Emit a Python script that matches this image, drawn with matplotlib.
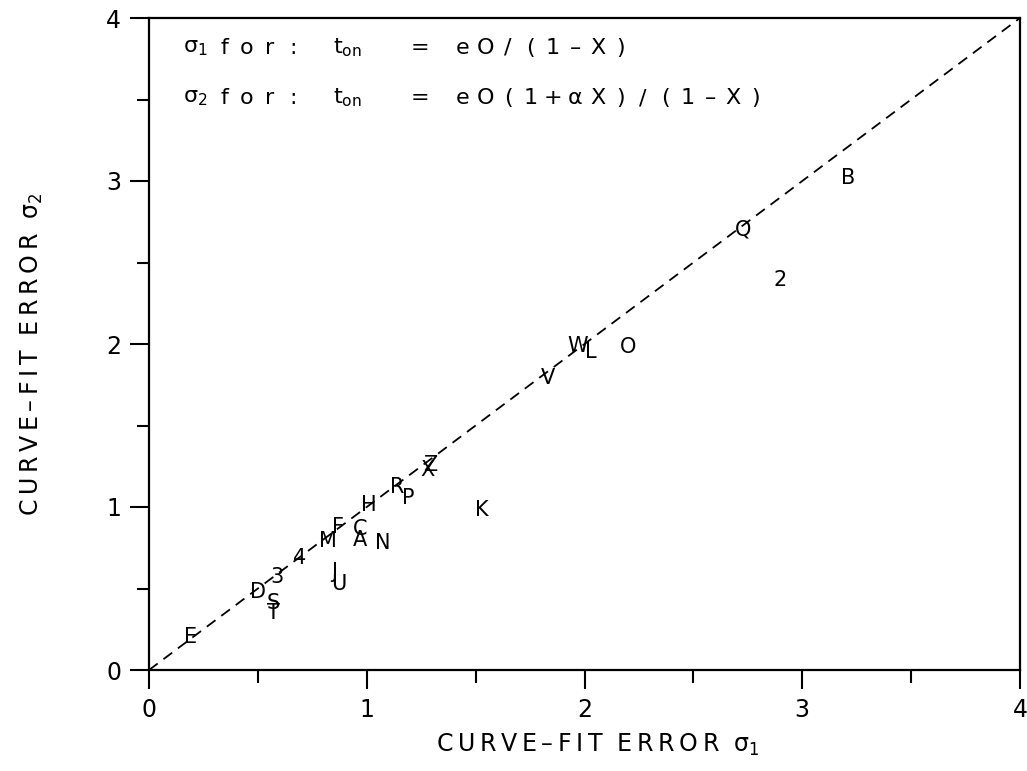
import matplotlib.pyplot as plt
import numpy as np

# sample labels and their curve-fit errors
labels = ['E', 'D', 'S', 'T', '3', '4', 'M', 'F', 'J', 'U', 'C', 'A', 'N',
          'H', 'R', 'P', 'Z', 'X', 'K', 'V', 'W', 'L', 'O', 'Q', '2', 'B']
sigma1 = [0.19, 0.50, 0.57, 0.57, 0.59, 0.69, 0.82, 0.87, 0.85, 0.87, 0.97, 0.97, 1.075,
          1.01, 1.14, 1.19, 1.29, 1.28, 1.53, 1.83, 1.97, 2.03, 2.20, 2.73, 2.90, 3.21]
sigma2 = [0.20, 0.48, 0.41, 0.35, 0.57, 0.69, 0.79, 0.88, 0.60, 0.53, 0.865, 0.80, 0.78,
          1.01, 1.12, 1.055, 1.26, 1.23, 0.98, 1.79, 1.99, 1.95, 1.98, 2.70, 2.39, 3.02]

xticks = [0, 1, 2, 3, 4]
yticks = [0, 1, 2, 3, 4]

W, H = 1027, 771
fig = plt.figure(figsize=(W / 100, H / 100), dpi=100)
ax = fig.add_axes([149 / W, 101 / H, 871 / W, 652 / H])

# one-to-one reference line
ax.plot([0, 4], [0, 4], color='black', lw=1.3, linestyle=(0, (6, 4)))

for lab, x, y in zip(labels, sigma1, sigma2):
    ax.text(x, y, lab, ha='center', va='center', fontsize=15, color='black')

ax.set_xlim(0, 4)
ax.set_ylim(0, 4)
ax.set_xticks(xticks)
ax.set_yticks(yticks)
ax.set_xticks(np.arange(0.5, 4, 1), minor=True)
ax.set_yticks(np.arange(0.5, 4, 1), minor=True)
ax.tick_params(which='major', direction='out', length=14, width=1.5, labelsize=17, pad=6)
ax.tick_params(which='minor', direction='out', length=9, width=1.5)
for s in ax.spines.values():
    s.set_linewidth(1.6)

thin = '\u2009'
axis_text = thin.join('CURVE–FIT') + '  ' + thin.join('ERROR') + '  σ'
ax.set_xlabel(axis_text + '$_1$', fontsize=17)
ax.set_ylabel(axis_text + '$_2$', fontsize=17)
ax.xaxis.set_label_coords(0.515, -62 / 652)
ax.yaxis.set_label_coords(-104 / 871, 0.485)


def px(xp):
    # horizontal pixel position -> axes fraction
    return (xp - 149) / 871


def spaced(s, x0, y, pitch=22.5):
    for i, ch in enumerate(s):
        ax.text(px(x0 + i * pitch), y, ch, transform=ax.transAxes,
                fontsize=16, ha='center', va='center')


# model definitions in the upper-left corner
for yy, sub, formula in [(0.954, '1', 'eO/(1–X)'), (0.877, '2', 'eO(1+αX)/(1–X)')]:
    ax.text(px(183), yy, 'σ$_{' + sub + '}$', transform=ax.transAxes,
            fontsize=16, ha='left', va='center')
    spaced('for:', 224, yy, pitch=23)
    ax.text(px(333), yy, 't$_{\\rm on}$', transform=ax.transAxes,
            fontsize=16, ha='left', va='center')
    spaced('=', 420, yy)
    spaced(formula, 463, yy)

fig.savefig('out.png', dpi=100)
